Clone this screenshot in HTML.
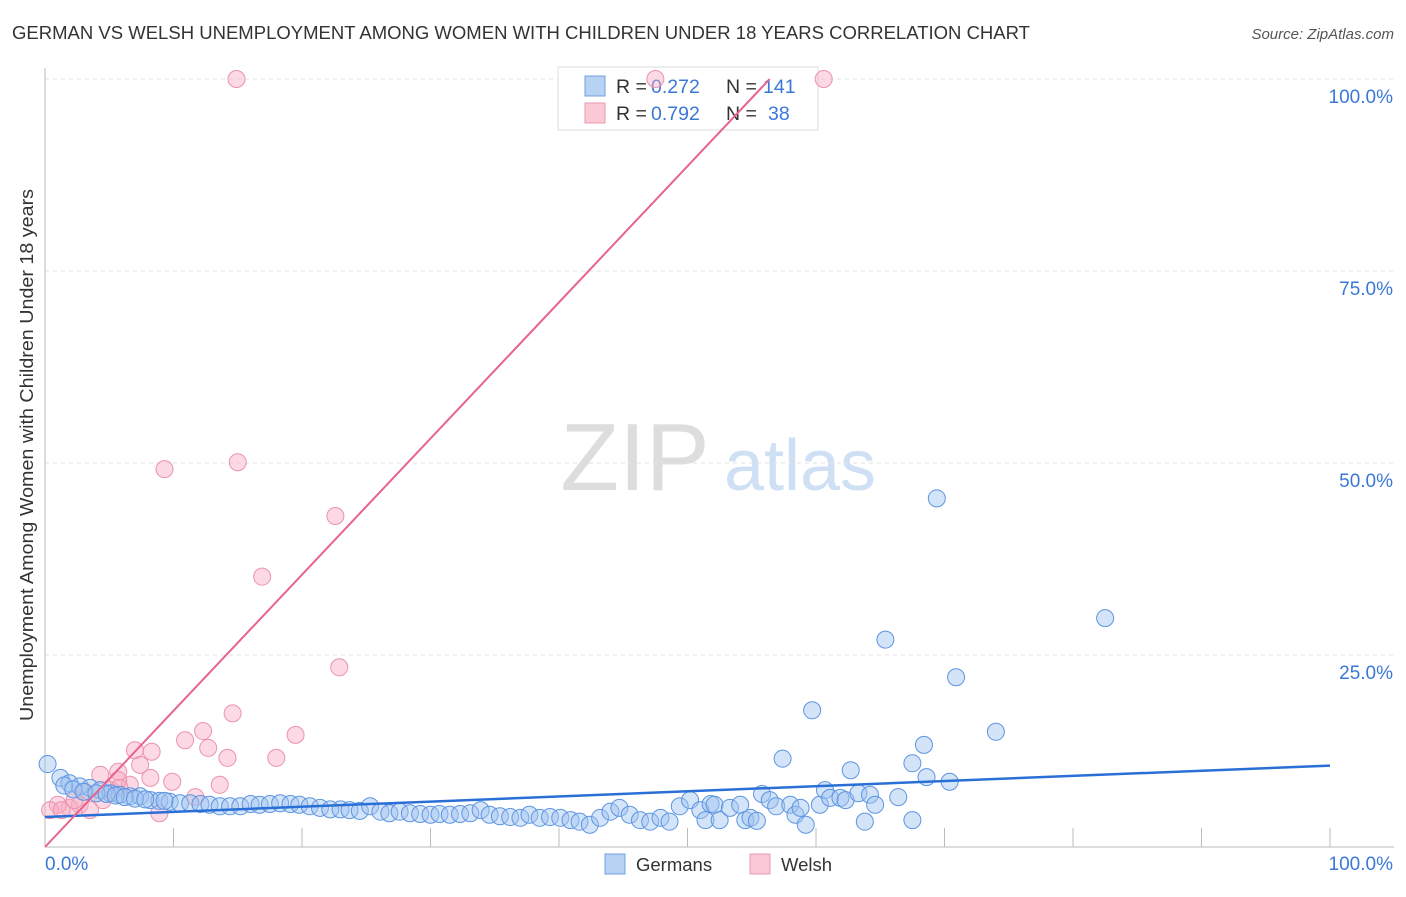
<!DOCTYPE html>
<html><head><meta charset="utf-8"><style>
body{margin:0;background:#fff;font-family:"Liberation Sans",sans-serif}
svg text{font-family:"Liberation Sans",sans-serif}
</style></head><body>
<svg id="c" width="1406" height="892">
<text x="12" y="39" font-size="18.6" fill="#333" textLength="1018" lengthAdjust="spacingAndGlyphs">GERMAN VS WELSH UNEMPLOYMENT AMONG WOMEN WITH CHILDREN UNDER 18 YEARS CORRELATION CHART</text>
<text x="1394" y="39" font-size="15" fill="#555" font-style="italic" text-anchor="end">Source: ZipAtlas.com</text>
<text x="635" y="490" font-size="96" fill="#ddd" font-family="Liberation Serif" text-anchor="middle">ZIP</text>
<text x="800" y="490" font-size="72" fill="#cfe0f5" text-anchor="middle">atlas</text>
<text transform="translate(33,455) rotate(-90)" font-size="18.3" fill="#333" text-anchor="middle" textLength="532" lengthAdjust="spacingAndGlyphs">Unemployment Among Women with Children Under 18 years</text>
<g id="grid"></g>
<g>
<rect x="558" y="67" width="260" height="63" fill="#fff" stroke="#ddd"/>
<rect x="585" y="76" width="20" height="20" fill="#b8d2f4" stroke="#6fa0e0"/>
<rect x="585" y="103" width="20" height="20" fill="#fbc8d6" stroke="#ea98b0"/>
<g font-size="19.5">
<text x="616" y="93" fill="#333">R =</text><text x="651" y="93" fill="#3a78d8">0.272</text>
<text x="726" y="93" fill="#333">N =</text><text x="763" y="93" fill="#3a78d8">141</text></g>
<g font-size="19.5">
<text x="616" y="120" fill="#333">R =</text><text x="651" y="120" fill="#3a78d8">0.792</text>
<text x="726" y="120" fill="#333">N =</text><text x="768" y="120" fill="#3a78d8">38</text></g>
</g>
<g id="pts"></g><g id="lines"></g>
<g>
<rect x="605" y="854" width="20" height="20" fill="#b8d2f4" stroke="#6fa0e0"/>
<text x="636" y="871" font-size="18.5" fill="#333">Germans</text>
<rect x="750" y="854" width="20" height="20" fill="#fbc8d6" stroke="#ea98b0"/>
<text x="781" y="871" font-size="18.5" fill="#333">Welsh</text>
</g>
</svg>
<script>
const yTicks=[25,50,75,100];
const yTickLabels=["25.0%","50.0%","75.0%","100.0%"];
const xTickLabels=["0.0%","100.0%"];
const blueX=[0.2,1.2,1.9,2.7,3.5,4.3,5.1,5.8,6.6,7.4,8.2,8.9,9.7,10.5,11.3,12.1,12.8,13.6,14.4,15.2,16.0,16.7,17.5,18.3,19.1,19.8,20.6,21.4,22.2,23.0,23.7,24.5,25.3,26.1,26.8,27.6,28.4,29.2,30.0,30.7,31.5,32.3,33.1,33.9,34.6,35.4,36.2,37.0,37.7,38.5,39.3,40.1,40.9,41.6,42.4,43.2,44.0,44.7,45.5,46.3,47.1,47.9,48.6,49.4,50.2,51.0,51.4,51.8,52.1,52.5,53.3,54.1,54.5,54.9,55.4,55.8,56.4,56.9,57.4,58.0,58.4,58.8,59.2,59.7,60.3,60.7,61.1,61.9,62.3,62.7,63.3,63.8,64.2,64.6,65.4,66.4,67.5,67.5,68.4,68.6,69.4,70.4,70.9,74.0,82.5,1.5,2.2,3.0,4.0,4.8,5.5,6.2,7.0,7.8,9.3];
const blueY=[10.8,9.0,8.3,7.9,7.7,7.4,7.0,6.8,6.6,6.6,6.1,6.0,5.9,5.7,5.7,5.6,5.5,5.3,5.3,5.3,5.6,5.5,5.6,5.7,5.6,5.5,5.3,5.1,4.9,4.9,4.8,4.7,5.3,4.6,4.4,4.6,4.4,4.3,4.2,4.3,4.2,4.3,4.4,4.8,4.2,4.0,3.9,3.8,4.2,3.8,3.9,3.8,3.5,3.3,2.9,3.8,4.6,5.1,4.2,3.5,3.3,3.8,3.3,5.3,6.1,4.8,3.5,5.6,5.5,3.5,5.1,5.5,3.5,3.8,3.4,6.9,6.1,5.3,11.5,5.5,4.2,5.1,2.9,17.8,5.5,7.4,6.4,6.4,6.1,10.0,7.0,3.3,6.8,5.5,27.0,6.5,3.5,10.9,13.3,9.1,45.4,8.5,22.1,15.0,29.8,8.0,7.5,7.2,7.0,6.9,6.7,6.5,6.3,6.2,6.0];
const pinkX=[14.9,47.5,60.6,9.3,15.0,22.6,16.9,22.9,14.6,12.3,19.5,7.0,10.9,8.3,12.7,14.2,18.0,7.4,9.9,13.6,5.7,4.3,6.6,8.2,11.7,8.9,5.7,4.5,2.7,1.9,1.0,0.4,1.3,3.5,5.1,3.1,5.8,2.3];
const pinkY=[100,100,100,49.2,50.1,43.1,35.2,23.4,17.4,15.1,14.6,12.6,13.9,12.4,12.9,11.6,11.6,10.7,8.5,8.1,9.8,9.4,8.1,9.0,6.5,4.4,8.7,6.1,5.5,5.1,5.5,4.8,4.8,4.8,7.4,7.2,7.7,6.1];
const blueLine=[3.9,10.6];
const pinkLine=[0,100];
const pinkLineEndX=56.4;
const NS="http://www.w3.org/2000/svg";
const X0=45,X1=1330,Y0=847,Y1=79;
const sx=v=>X0+(X1-X0)*v/100, sy=v=>Y0-(Y0-Y1)*v/100;
function mk(tag,attrs,parent){const e=document.createElementNS(NS,tag);for(const k in attrs)e.setAttribute(k,attrs[k]);document.getElementById(parent).appendChild(e);return e;}
const g='grid';
yTicks.forEach((t,i)=>{
 const l=mk('line',{x1:X0,x2:1394,y1:sy(t),y2:sy(t),stroke:'#e2e2e2','stroke-dasharray':'4,4'},g);
 
 
 const tx=mk('text',{x:1393,y:sy(t)+24,'font-size':19,fill:'#3a78d8','text-anchor':'end'},g);tx.textContent=yTickLabels[i];
 
 
});
const ax=mk('line',{x1:X0,x2:X0,y1:68,y2:Y0,stroke:'#bbb'},g);


const bx=mk('line',{x1:X0,x2:1394,y1:Y0,y2:Y0,stroke:'#bbb'},g);


for(let i=1;i<=10;i++){const t=mk('line',{x1:sx(i*10),x2:sx(i*10),y1:Y0-19,y2:Y0,stroke:'#bbb'},g);
 
 }
[[0,'start',45],[100,'end',1393]].forEach((d,i)=>{const t=mk('text',{x:d[2],y:870,'font-size':19,fill:'#3a78d8','text-anchor':d[1]},g);t.textContent=xTickLabels[i];
 
 });
pinkX.forEach((x,i)=>{const c=mk('circle',{cx:sx(x),cy:sy(pinkY[i]),r:8.5,fill:'rgba(248,170,195,0.45)',stroke:'#eb93ae','stroke-width':1},'pts');
 
 });
const n=Math.min(blueX.length,blueY.length);
for(let i=0;i<n;i++){const c=mk('circle',{cx:sx(blueX[i]),cy:sy(blueY[i]),r:8.5,fill:'rgba(160,196,240,0.45)',stroke:'#5d95e2','stroke-width':1},'pts');
 
 }
const bl=mk('line',{x1:sx(0),y1:sy(blueLine[0]),x2:sx(100),y2:sy(blueLine[1]),stroke:'#2a6fd6','stroke-width':2.5},'lines');


const pl=mk('line',{x1:sx(0),y1:sy(pinkLine[0]),x2:sx(pinkLineEndX),y2:sy(pinkLine[1]),stroke:'#e8628e','stroke-width':2},'lines');


</script>
</body></html>
